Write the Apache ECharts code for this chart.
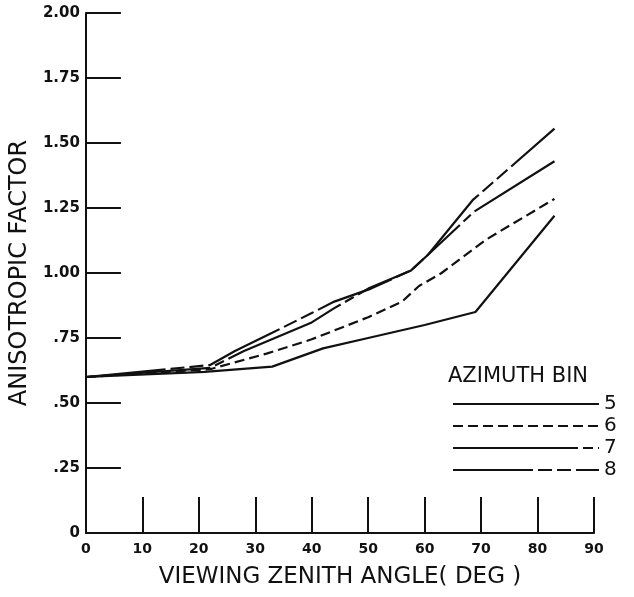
<!DOCTYPE html>
<html>
<head>
<meta charset="utf-8">
<script src="https://cdn.jsdelivr.net/npm/echarts@6/dist/echarts.min.js"></script>
<style>html,body{margin:0;padding:0;background:#fff}#c{width:634px;height:597px}</style>
</head>
<body>
<div id="c"></div>
<script>
// Data
const yTickLabels = ['0', '.25', '.50', '.75', '1.00', '1.25', '1.50', '1.75', '2.00'];
const xTickLabels = ['0', '10', '20', '30', '40', '50', '60', '70', '80', '90'];
const seriesNames = ['5', '6', '7', '8'];

const bin5Angles = [0, 21, 33, 42, 50, 60, 69, 83];
const bin5Values = [0.60, 0.62, 0.64, 0.71, 0.75, 0.80, 0.85, 1.22];

const bin6Angles = [0, 22, 32, 40, 50, 56, 59, 63, 71, 83];
const bin6Values = [0.60, 0.63, 0.69, 0.745, 0.83, 0.89, 0.95, 1.0, 1.13, 1.285];

const bin7Angles = [0, 22, 28, 40, 44, 50, 57.6, 60.6, 68.7, 83];
const bin7Values = [0.60, 0.635, 0.70, 0.81, 0.865, 0.94, 1.01, 1.07, 1.235, 1.43];

const bin8Angles = [0, 22, 26.4, 33, 40, 44, 50.5, 57.6, 60.6, 68.5, 83];
const bin8Values = [0.60, 0.646, 0.70, 0.77, 0.846, 0.89, 0.94, 1.01, 1.07, 1.28, 1.555];

function pairs(xs, ys) { return xs.map((x, i) => [x, ys[i]]); }

const dashes = ['solid', [10, 5], [125, 5, 10, 5], [80, 5, 14, 5, 14, 5]];
const allData = [
  pairs(bin5Angles, bin5Values),
  pairs(bin6Angles, bin6Values),
  pairs(bin7Angles, bin7Values),
  pairs(bin8Angles, bin8Values)
];

const font = 'DejaVu Sans';
const chart = echarts.init(document.getElementById('c'), null, {renderer: 'canvas'});
chart.setOption({
  animation: false,
  backgroundColor: '#fff',
  title: {
    text: 'AZIMUTH BIN',
    left: 443, top: 361,
    textStyle: {fontFamily: font, fontSize: 21, fontWeight: 'normal', color: '#111'}
  },
  legend: {
    orient: 'vertical',
    left: 447, top: 389,
    itemWidth: 146, itemHeight: 14, itemGap: 2,
    data: seriesNames,
    itemStyle: {opacity: 0},
    textStyle: {fontFamily: font, fontSize: 20, color: '#111', lineHeight: 16},
    selectedMode: false
  },
  grid: {left: 83, right: 40, top: 13, bottom: 64, containLabel: false},
  xAxis: {
    type: 'value', min: 0, max: 90, interval: 10,
    name: 'VIEWING ZENITH ANGLE( DEG )',
    nameLocation: 'middle', nameGap: 33,
    nameTextStyle: {fontFamily: font, fontSize: 23, color: '#111'},
    axisLine: {lineStyle: {color: '#111', width: 2}},
    axisTick: {inside: true, length: 36, lineStyle: {color: '#111', width: 2}},
    axisLabel: {
      fontFamily: font, fontSize: 14, fontWeight: 'bold', color: '#111', margin: 9,
      formatter: (v) => xTickLabels[Math.round(v / 10)]
    },
    splitLine: {show: false}
  },
  yAxis: {
    type: 'value', min: 0, max: 2, interval: 0.25,
    name: 'ANISOTROPIC FACTOR',
    nameLocation: 'middle', nameGap: 52, nameRotate: 90,
    nameTextStyle: {fontFamily: font, fontSize: 24, color: '#111'},
    axisLine: {lineStyle: {color: '#111', width: 2}},
    axisTick: {inside: true, length: 35, lineStyle: {color: '#111', width: 2}},
    axisLabel: {
      fontFamily: font, fontSize: 15, fontWeight: 'bold', color: '#111', margin: 6,
      formatter: (v) => yTickLabels[Math.round(v / 0.25)]
    },
    splitLine: {show: false}
  },
  series: seriesNames.map((n, i) => ({
    name: n,
    type: 'line',
    data: allData[i],
    symbol: 'none',
    smooth: false,
    color: '#111',
    lineStyle: {color: '#111', width: 2.2, type: dashes[i]}
  }))
});
</script>
</body>
</html>
